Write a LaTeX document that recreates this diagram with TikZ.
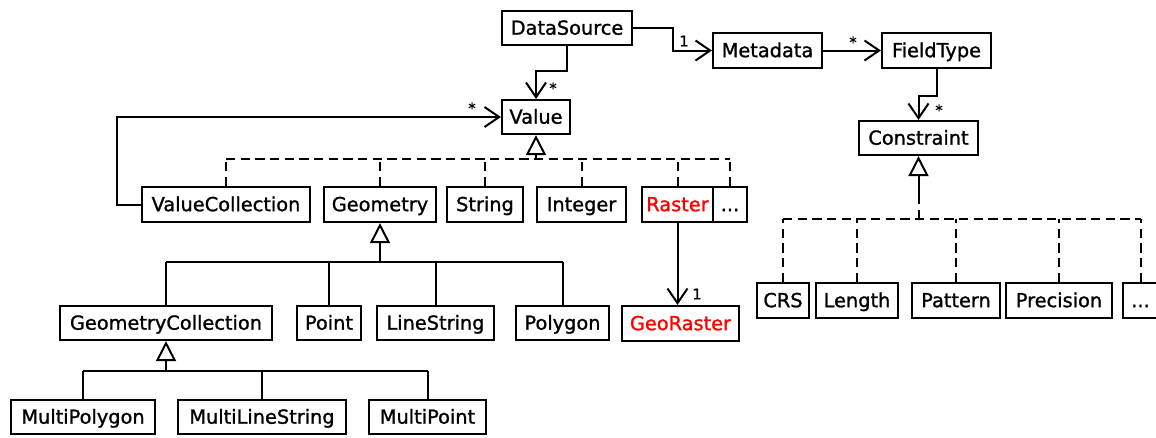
\documentclass[tikz,border=0pt]{standalone}
\usepackage{fontspec}
\setmainfont[FakeBold=1.2]{DejaVu Sans}
\usetikzlibrary{arrows.meta}
\tikzset{
  box/.style={draw, line width=1.6pt, inner sep=0pt, text height=10pt, text depth=0pt, font=\fontsize{14.5}{17}\selectfont},
  conn/.style={line width=1.5pt},
  assoc/.style={conn, -{Straight Barb[length=11pt,width=15pt]}},
  gen/.style={conn, -{Triangle[open,length=15pt,width=15pt,fill=white]}},
  real/.style={conn, dash pattern=on 7pt off 4pt},
  mult/.style={font=\fontsize{11}{13}\selectfont, inner sep=0pt}
}
\newcommand\ubox[7][]{\node[box,#1,minimum width={(#5-#3)*0.75pt},minimum height={(#6-#4)*0.75pt}] (#2) at ({(#3+#5)/2},{(#4+#6)/2}) {#7};}
\begin{document}
\begin{tikzpicture}[x=0.75pt,y=-0.75pt]
\useasboundingbox (0,0) rectangle (1156,437);
% nodes
\ubox{ds}{502}{11}{632}{45}{DataSource}
\ubox{md}{713}{33}{822}{68}{Metadata}
\ubox{ft}{882}{33}{991}{68}{FieldType}
\ubox{val}{502}{100}{570}{134}{Value}
\ubox{con}{859}{121}{978}{155}{Constraint}
\ubox{vc}{142}{187}{310}{222}{ValueCollection}
\ubox{geo}{324}{187}{436}{222}{Geometry}
\ubox{str}{447}{187}{523}{222}{String}
\ubox{int}{537}{187}{626}{222}{Integer}
\ubox[text=red]{ras}{642}{187}{713}{222}{Raster}
\ubox{vdots}{713}{187}{747}{222}{.{}.{}.}
\ubox{gc}{60}{306}{272}{340}{GeometryCollection}
\ubox{pt}{297}{306}{361}{340}{Point}
\ubox{ls}{377}{306}{494}{340}{LineString}
\ubox{pg}{516}{306}{609}{340}{Polygon}
\ubox[text=red]{gr}{622}{306}{739}{341}{GeoRaster}
\ubox{crs}{757}{283}{809}{318}{CRS}
\ubox{len}{816}{283}{898}{318}{Length}
\ubox{pat}{912}{283}{1000}{318}{Pattern}
\ubox{prec}{1006}{283}{1112}{318}{Precision}
\ubox{cdots}{1123}{283}{1158}{318}{.{}.{}.}
\ubox{mpg}{11}{400}{155}{434}{MultiPolygon}
\ubox{mls}{178}{400}{346}{434}{MultiLineString}
\ubox{mpt}{369}{400}{486}{434}{MultiPoint}
% associations
\draw[assoc] (ds.east) -- ++(40,0) |- (md.west);
\node[mult] (m1) at (684,41) {1};
\draw[assoc] (ds.south) -- ++(0,25) -| (val.north);
\node[mult] (m2) at (553,88) {*};
\draw[assoc] (md.east) -- (ft.west);
\node[mult] (m3) at (853,42) {*};
\draw[assoc] (ft.south) -- ++(0,27) -| (con.north);
\node[mult] (m4) at (939,110) {*};
\draw[assoc] (vc.west) -- ++(-24,0) |- (val.west);
\node[mult] (m5) at (472,108) {*};
\draw[assoc] (ras.south) -- (ras.south |- gr.north);
\node[mult] (m6) at (697,294) {1};
% realization of Value
\coordinate (vb) at (536,159);
\draw[real] (vc.north |- vb) -- (vdots.north |- vb);
\foreach \n in {vc,geo,str,int,ras,vdots}{\draw[real] (\n.north) -- (\n.north |- vb);}
\draw[gen] (vb) -- (val.south);
% generalization of Geometry
\coordinate (gb) at (380,262);
\draw[conn] (gc.north |- gb) -- (pg.north |- gb);
\foreach \n in {gc,pt,ls,pg}{\draw[conn] (\n.north) -- (\n.north |- gb);}
\draw[gen] (gb) -- (geo.south);
% generalization of GeometryCollection
\coordinate (cb) at (166,371);
\draw[conn] (mpg.north |- cb) -- (mpt.north |- cb);
\foreach \n in {mpg,mls,mpt}{\draw[conn] (\n.north) -- (\n.north |- cb);}
\draw[gen] (cb) -- (gc.south);
% realization of Constraint
\coordinate (kb) at (918.5,219);
\draw[real] (crs.north |- kb) -- (cdots.north |- kb);
\foreach \n in {crs,len,pat,prec,cdots}{\draw[real] (\n.north) -- (\n.north |- kb);}
\draw[real] (kb) -- ++(0,-20) coordinate (kt);
\draw[gen] (kt) -- (con.south);
\end{tikzpicture}
\end{document}
